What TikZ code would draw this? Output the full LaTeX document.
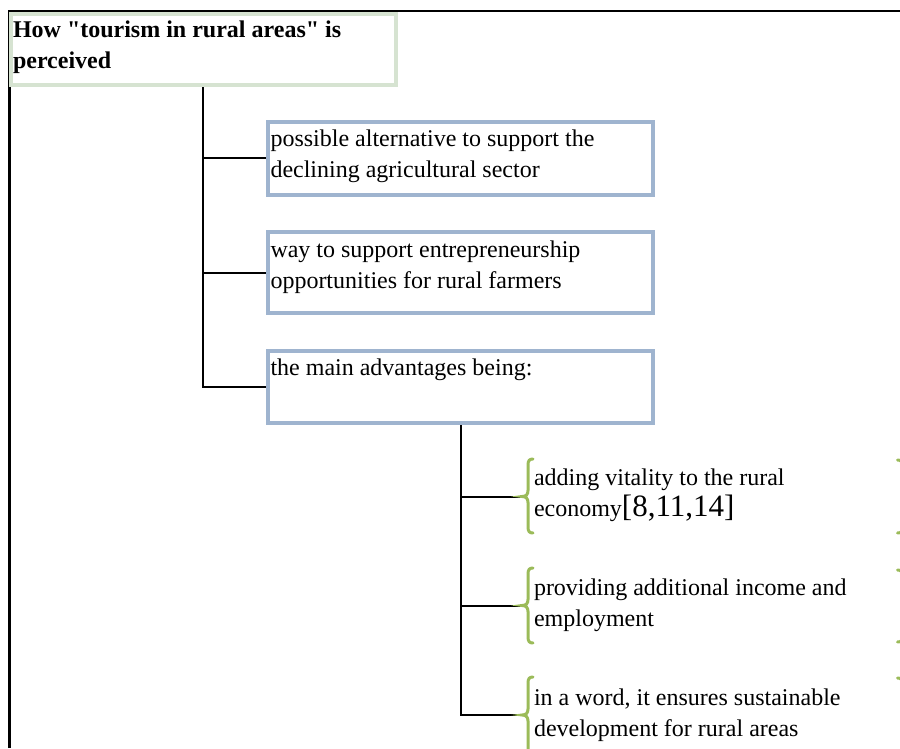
\documentclass[tikz,border=0pt]{standalone}
\usepackage{fontspec}
\setmainfont{Liberation Serif}[Ligatures=TeXOff]
\usetikzlibrary{backgrounds}
\definecolor{boxblue}{RGB}{159,180,207}
\definecolor{titlegreen}{RGB}{214,227,209}
\definecolor{bracegreen}{RGB}{155,187,89}
\newcommand\twoline[2]{\vtop{\baselineskip=31pt\hbox{#1}\hbox{#2}}}
\newcommand\gbraceL[3]{%
  \draw[gbrace] (533,#1) .. controls (529.5,#1) and (528,#1+1.5) .. (528,#1+6)
    -- (528,#2-6) .. controls (528,#2-2) and (526,#2) .. (522,#2)
    .. controls (526,#2) and (528,#2+2) .. (528,#2+6)
    -- (528,#3-6) .. controls (528,#3-1.5) and (529.5,#3) .. (533,#3);}
\newcommand\gbraceR[3]{%
  \draw[gbrace] (897.5,#1) .. controls (901,#1) and (902.5,#1+1.5) .. (902.5,#1+6)
    -- (902.5,#2-6) .. controls (902.5,#2-2) and (904.5,#2) .. (908.5,#2)
    .. controls (904.5,#2) and (902.5,#2+2) .. (902.5,#2+6)
    -- (902.5,#3-6) .. controls (902.5,#3-1.5) and (901,#3) .. (897.5,#3);}
\begin{document}
\begin{tikzpicture}[x=1pt,y=-1pt,
  conn/.style={line width=2pt, black},
  frameline/.style={line width=2.2pt, black},
  gbrace/.style={line width=3pt, bracegreen, line cap=round},
  titlebox/.style={draw=titlegreen, line width=4pt, inner sep=0pt, outer sep=0pt, anchor=north west},
  bluebox/.style={draw=boxblue, line width=4pt, inner sep=0pt, outer sep=0pt, anchor=north west, minimum width=385pt},
  txt/.style={anchor=base west, inner sep=0pt, outer sep=0pt, font=\fontsize{24}{31}\selectfont},
  bigtxt/.style={txt, font=\bfseries\fontsize{24}{31}\selectfont}]
\useasboundingbox (0,0) rectangle (900,748);
\clip (0,0) rectangle (900,748);
% boxes
\node[titlebox, minimum width=384.5pt, minimum height=71.5pt] (title) at (11,13.5) {};
\node[bluebox, minimum height=72.7pt] (b1) at (268,122) {};
\node[bluebox, minimum height=81pt] (b2) at (268,232) {};
\node[bluebox, minimum height=71.7pt] (b3) at (268,351.3) {};
% texts
\node[bigtxt] (tt) at (13,37) {\twoline{How "tourism in rural areas" is}{perceived}};
\node[txt] (t1) at (270.5,146) {\twoline{possible alternative to support the}{declining agricultural sector}};
\node[txt] (t2) at (270.5,257) {\twoline{way to support entrepreneurship}{opportunities for rural farmers}};
\node[txt] (t3) at (270.5,375) {the main advantages being:};
\node[txt] (a1) at (534,485) {\twoline{adding vitality to the rural}{economy{\fontsize{31}{31}\selectfont[8,11,14]}}};
\node[txt] (a2) at (534,595) {\twoline{providing additional income and}{employment}};
\node[txt] (a3) at (534,705) {\twoline{in a word, it ensures sustainable}{development for rural areas}};
% brace tips
\coordinate (br1) at (522,496.5);
\coordinate (br2) at (522,605.5);
\coordinate (br3) at (522,715);
\coordinate (j1) at (203.3,0);
\coordinate (j2) at (460.7,0);
% braces
\gbraceL{459}{496.5}{533}
\gbraceL{568}{605.5}{643}
\gbraceL{677}{715}{753}
\gbraceR{460}{496.5}{533}
\gbraceR{570}{606}{642}
\gbraceR{678}{716}{754}
\begin{scope}[on background layer]
  \draw[frameline] (9.5,748) -- (9.5,11) -- (900,11);
  \draw[conn] (title.south -| j1) |- (b1.west);
  \draw[conn] (title.south -| j1) |- (b2.west);
  \draw[conn] (title.south -| j1) |- (b3.west);
  \draw[conn] (b3.south -| j2) |- (br1);
  \draw[conn] (b3.south -| j2) |- (br2);
  \draw[conn] (b3.south -| j2) |- (br3);
\end{scope}
\end{tikzpicture}
\end{document}
